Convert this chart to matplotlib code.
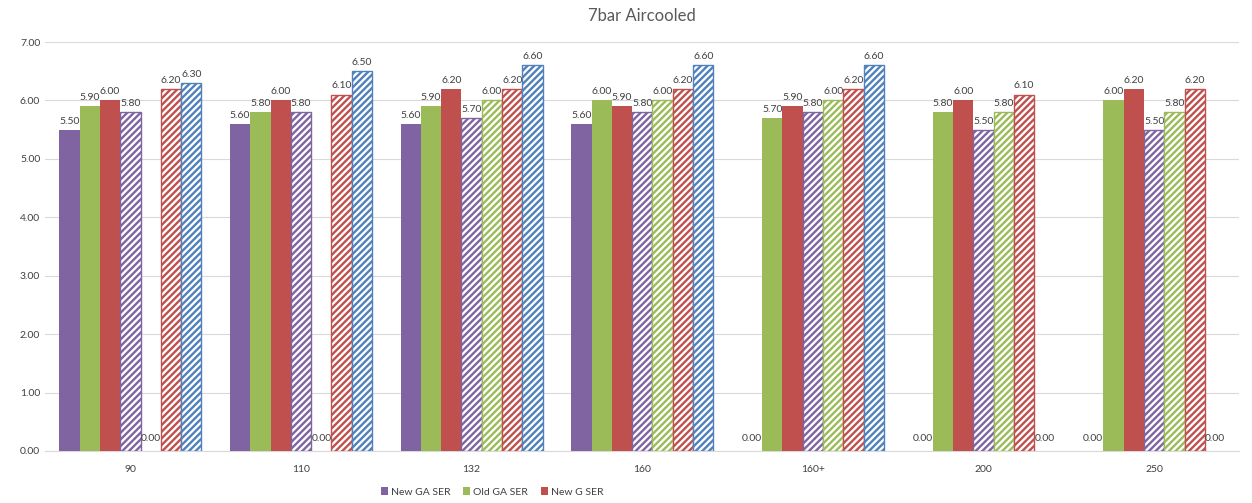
import numpy as np
import matplotlib
matplotlib.use("Agg")
import matplotlib.pyplot as plt

plt.rcParams['font.family'] = ['Lato', 'DejaVu Sans']
plt.rcParams['hatch.linewidth'] = 1.7

categories = ['90', '110', '132', '160', '160+', '200', '250']

# solid series (shown in legend)
new_ga_ser = [5.5, 5.6, 5.6, 5.6, 0.0, 0.0, 0.0]
old_ga_ser = [5.9, 5.8, 5.9, 6.0, 5.7, 5.8, 6.0]
new_g_ser = [6.0, 6.0, 6.2, 5.9, 5.9, 6.0, 6.2]
# hatched series (not in legend)
hatch_purple = [5.8, 5.8, 5.7, 5.8, 5.8, 5.5, 5.5]
hatch_green = [0.0, 0.0, 6.0, 6.0, 6.0, 5.8, 5.8]
hatch_red = [6.2, 6.1, 6.2, 6.2, 6.2, 6.1, 6.2]
hatch_blue = [6.3, 6.5, 6.6, 6.6, 6.6, 0.0, 0.0]

purple = '#8064A2'
green = '#9BBB59'
red = '#C0504D'
blue = '#4F81BD'

series = [
    ('New GA SER', new_ga_ser, purple, False),
    ('Old GA SER', old_ga_ser, green, False),
    ('New G SER', new_g_ser, red, False),
    (None, hatch_purple, purple, True),
    (None, hatch_green, green, True),
    (None, hatch_red, red, True),
    (None, hatch_blue, blue, True),
]

fig = plt.figure(figsize=(12.52, 5.03), dpi=100)
ax = fig.add_axes([0.036, 0.1034, 0.954, 0.813])

x = np.arange(len(categories))
w = 0.119
n = len(series)
for i, (name, vals, col, hatched) in enumerate(series):
    pos = x + (i - (n - 1) / 2) * w
    if hatched:
        bars = ax.bar(pos, vals, w, facecolor='white', edgecolor=col,
                      hatch='/////', linewidth=1.0, zorder=3)
    else:
        bars = ax.bar(pos, vals, w, color=col, label=name, zorder=3)
    for b, v in zip(bars, vals):
        if v == 0:
            b.set_linewidth(0)
        off = 6 if v == 0 else 3
        ax.annotate('%.2f' % v, (b.get_x() + b.get_width() / 2, v),
                    xytext=(0, off), textcoords='offset points',
                    ha='center', va='bottom', fontsize=7.5, color='#404040')

ax.set_xlim(-0.5, len(categories) - 0.5)
ax.set_ylim(0, 7)
ax.set_yticks(np.arange(0, 8, 1))
ax.set_yticklabels(['%.2f' % t for t in range(8)])
ax.set_xticks(x)
ax.set_xticklabels(categories)
ax.tick_params(axis='both', length=0, labelsize=7.5, colors='#404040')
ax.tick_params(axis='x', pad=10)
ax.grid(axis='y', color='#D9D9D9', linewidth=0.8, zorder=0)
for s in ['top', 'right', 'left']:
    ax.spines[s].set_visible(False)
ax.spines['bottom'].set_color('#D9D9D9')

ax.set_title('7bar Aircooled', fontsize=12, color='#595959', pad=15)

fig.legend(loc='center', bbox_to_anchor=(0.393, 0.022), ncol=3, frameon=False,
           fontsize=7.5, handlelength=0.7, handleheight=0.7, handletextpad=0.3,
           columnspacing=1.2, labelcolor='#404040')

fig.savefig('out.png', dpi=100)
